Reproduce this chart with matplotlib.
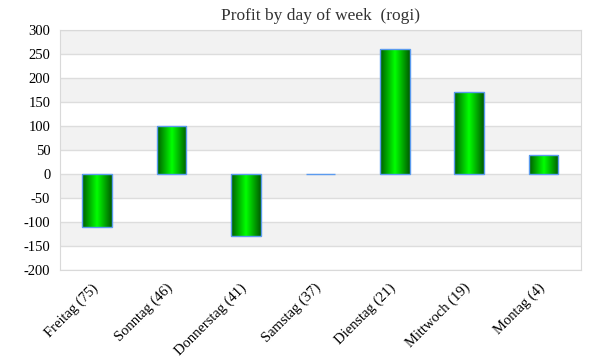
import numpy as np
import matplotlib
matplotlib.use("Agg")
import matplotlib.pyplot as plt
import matplotlib.transforms as mtransforms
from matplotlib.colors import LinearSegmentedColormap

days = ["Freitag (75)", "Sonntag (46)", "Donnerstag (41)", "Samstag (37)",
        "Dienstag (21)", "Mittwoch (19)", "Montag (4)"]
profit = [-110, 100, -130, 0, 260, 170, 40]
y_ticks = [-200, -150, -100, -50, 0, 50, 100, 150, 200, 250, 300]

plt.rcParams['font.family'] = ['Liberation Serif', 'DejaVu Serif']

fig = plt.figure(figsize=(6, 3.6), dpi=100)
ax = fig.add_axes([0.1, 0.25, 0.868, 0.667])

x = np.arange(len(days))
width = 0.4

ax.set_xlim(-0.5, len(days) - 0.5)
ax.set_ylim(-200, 300)

# alternating bands
for lo in range(-200, 300, 50):
    if (lo // 50) % 2 == 1:
        ax.axhspan(lo, lo + 50, color='#f2f2f2', zorder=0, lw=0)
for t in y_ticks:
    ax.axhline(t, color='#dddddd', lw=1, zorder=1)

# horizontal green gradient, dark edges and bright centre
cmap = LinearSegmentedColormap.from_list('g', ['#005c00', '#00ff00', '#005c00'])
grad = np.linspace(0, 1, 100).reshape(1, -1)

bars = ax.bar(x, profit, width=width, color='none', edgecolor='#5b9bef',
              linewidth=1, zorder=3)
for b in bars:
    x0, y0 = b.get_x(), b.get_y()
    w, h = b.get_width(), b.get_height()
    if h == 0:
        continue
    im = ax.imshow(grad, cmap=cmap, aspect='auto',
                   extent=[x0, x0 + w, min(y0, y0 + h), max(y0, y0 + h)],
                   zorder=2)
    im.set_clip_path(b)

ax.set_xlim(-0.5, len(days) - 0.5)
ax.set_ylim(-200, 300)

ax.set_yticks(y_ticks)
ax.set_yticklabels([str(t) for t in y_ticks], fontsize=10.5)
ax.set_xticks(x)
ax.set_xticklabels(days, rotation=45, ha='right', rotation_mode='anchor', fontsize=10.5)
ax.tick_params(length=0, pad=7)
ax.tick_params(axis='x', pad=8)

offset = mtransforms.ScaledTranslation(-6 / 100, 0, fig.dpi_scale_trans)
for lbl in ax.get_xticklabels():
    lbl.set_transform(lbl.get_transform() + offset)

for s in ax.spines.values():
    s.set_color('#d9d9d9')

ax.set_title('Profit by day of week  (rogi)', fontsize=12.5, pad=7, color='#333333')

fig.savefig('out.png', dpi=100)
